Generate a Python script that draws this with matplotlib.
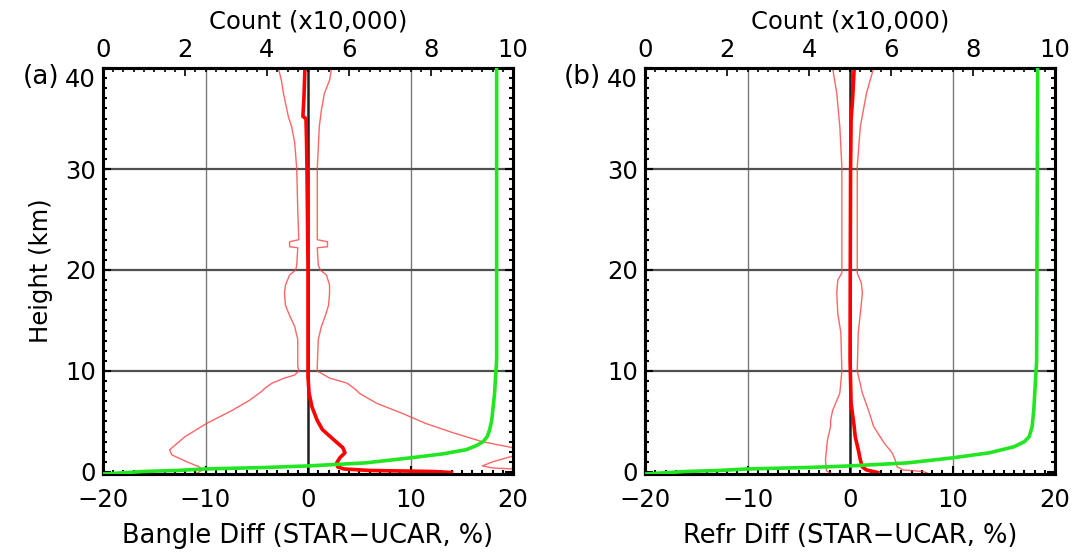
import matplotlib
matplotlib.use("Agg")
import matplotlib.pyplot as plt
from matplotlib.ticker import MultipleLocator

plt.rcParams['font.family'] = ['DejaVu Sans']
plt.rcParams['font.size'] = 17.5

# ---- panel (a): bending angle difference ----
a_mean_h = [40, 37, 35.2, 35.0, 33, 30, 25, 20, 15, 11, 9.4, 7.8, 6.4, 5.1, 4.2,
            3.2, 2.4, 1.9, 1.4, 0.9, 0.5, 0.3, 0.15, 0.05, -0.05]
a_mean_x = [-0.3, -0.4, -0.5, -0.2, -0.15, -0.1, -0.05, 0, 0, 0, 0, 0.1, 0.4, 0.9, 1.4,
            2.5, 3.4, 3.6, 3.1, 2.8, 2.9, 3.5, 6.0, 12.1, 14.0]

a_lo_h = [40, 38.8, 37.5, 35.1, 34.2, 32.6, 30, 25.9, 23.0, 22.8, 22.3, 22.2, 20.5, 20.0,
          19.5, 18.5, 17.7, 16.5, 15.5, 14.4, 13.1, 10.5, 10.0, 9.6, 9.3, 8.8, 8.3, 8.0,
          7.1, 6.1, 4.8, 3.5, 2.2, 1.7, 1.0, 0.5, 0.2, -0.1]
a_lo_x = [-2.9, -2.6, -2.4, -1.9, -1.6, -1.3, -1.1, -1.0, -0.9, -1.8, -1.8, -1.0, -1.1, -1.2,
          -1.8, -2.2, -2.3, -2.2, -1.8, -1.3, -1.0, -1.0, -0.9, -1.3, -2.3, -3.5, -4.2, -4.5,
          -5.7, -7.4, -9.9, -12.0, -13.5, -13.3, -11.8, -10.6, -10.3, -10.8]

a_hi_h = [40, 38.8, 37.5, 35.8, 34.2, 30, 23.0, 22.8, 22.3, 22.2, 20.5, 20.0, 19.5, 18.5,
          17.7, 16.5, 15.5, 14.4, 13.1, 10.5, 10.0, 9.3, 8.8, 8.2, 7.8, 6.8, 5.8, 4.8,
          3.9, 3.0, 2.4, 2.0, 1.6, 1.5, 1.0, 0.6, 0.4, 0.3, 0.2]
a_hi_x = [2.3, 2.1, 1.6, 1.3, 1.1, 0.9, 0.9, 1.9, 1.9, 0.9, 1.0, 1.2, 1.8, 2.1,
          2.1, 2.0, 1.7, 1.3, 1.0, 0.9, 0.9, 2.1, 3.8, 4.6, 5.0, 6.7, 9.2, 11.5,
          14.1, 17.0, 20.0, 21.0, 20.3, 19.7, 18.0, 17.0, 18.0, 20.0, 22.0]

# count profile (x10,000), top axis
a_cnt_h = [-0.2, 0.05, 0.15, 0.3, 0.45, 0.6, 0.9, 1.4, 1.8, 2.2, 2.6, 3.0, 3.5, 4.2,
           5.1, 7.8, 11.1, 40]
a_cnt_c = [0.0, 1.0, 1.8, 2.5, 4.0, 5.0, 6.4, 7.5, 8.3, 8.85, 9.1, 9.27, 9.37, 9.43,
           9.48, 9.55, 9.6, 9.6]

# ---- panel (b): refractivity difference ----
b_mean_h = [40, 37, 34.9, 30, 20, 11.1, 6.8, 4.5, 3.5, 2.2, 1.2, 0.5, 0.2, -0.05]
b_mean_x = [0.4, 0.25, 0.1, 0.05, 0.02, 0.0, 0.1, 0.4, 0.5, 0.8, 1.0, 1.2, 1.6, 2.7]

b_lo_h = [40, 37.5, 34.2, 30.2, 24.3, 19.7, 19.0, 17.7, 15.7, 13.8, 10, 7.8, 6.1, 5.1,
          4.5, 3.2, 1.2, 0.1, -0.1]
b_lo_x = [-1.7, -1.3, -1.0, -0.8, -0.8, -0.8, -1.2, -1.3, -1.2, -0.9, -0.8, -1.0, -1.7, -1.9,
          -1.9, -2.2, -2.4, -2.3, -1.9]

b_hi_h = [40, 37.5, 34.2, 30.2, 24, 19.7, 18.7, 17.7, 15.7, 13.8, 10, 7.8, 6.1, 4.5,
          2.9, 1.9, 1.2, 0.5, 0.2, 0.05, -0.1]
b_hi_x = [2.3, 1.6, 1.0, 0.7, 0.7, 0.7, 1.1, 1.2, 1.0, 0.8, 0.7, 1.2, 1.8, 2.3,
          3.3, 4.1, 4.4, 4.6, 5.2, 7.1, 7.5]

b_cnt_h = [-0.2, 0.05, 0.15, 0.3, 0.45, 0.6, 0.9, 1.4, 1.9, 2.5, 3.0, 3.5, 4.5,
           6.1, 11.0, 40]
b_cnt_c = [0.0, 1.0, 1.8, 2.5, 4.0, 5.0, 6.4, 7.5, 8.4, 9.0, 9.25, 9.37, 9.44,
           9.48, 9.55, 9.575]

fig = plt.figure(figsize=(10.74, 5.52), dpi=100)


def draw_panel(left, tag, xlabel, mean_h, mean_x, lo_h, lo_x, hi_h, hi_x, cnt_h, cnt_c, ylabel=None):
    ax = fig.add_axes([left, 0.1413, 0.3818, 0.7355])
    ax.set_xlim(-20, 20)
    ax.set_ylim(-0.2, 40)

    # grid
    for x in (-10, 10):
        ax.axvline(x, color='#7a7a7a', lw=1.0, zorder=1)
    ax.axvline(0, color='#202020', lw=1.8, zorder=1)
    for h in (10, 20, 30):
        ax.axhline(h, color='#505050', lw=1.6, zorder=1)

    # difference profiles
    ax.plot(lo_x, lo_h, color='#ff4040', lw=1.0, alpha=0.8, zorder=2)
    ax.plot(hi_x, hi_h, color='#ff4040', lw=1.0, alpha=0.8, zorder=2)
    ax.plot(mean_x, mean_h, color='red', lw=2.6, zorder=3)

    ax.set_xticks([-20, -10, 0, 10, 20])
    ax.xaxis.set_minor_locator(MultipleLocator(1))
    ax.set_yticks([0, 10, 20, 30, 40])
    ax.yaxis.set_minor_locator(MultipleLocator(1))
    ax.tick_params(which='both', direction='in', top=False, right=True, width=1.5)
    ax.tick_params(which='major', length=6)
    ax.tick_params(which='minor', length=3)
    ax.tick_params(axis='x', pad=10)
    ax.tick_params(axis='y', pad=5)
    ax.get_yticklabels()[-1].set_va('top')
    for s in ax.spines.values():
        s.set_linewidth(2.2)
    ax.set_xlabel(xlabel, labelpad=8, fontsize=18.5)
    if ylabel:
        ax.set_ylabel(ylabel, labelpad=9)

    # count on the top axis
    ax2 = ax.twiny()
    ax2.set_xlim(0, 10)
    ax2.plot(cnt_c, cnt_h, color='#22e622', lw=2.6, zorder=4)
    ax2.set_xticks([0, 2, 4, 6, 8, 10])
    ax2.xaxis.set_minor_locator(MultipleLocator(0.25))
    ax2.tick_params(which='both', direction='in', width=1.2, pad=4)
    ax2.tick_params(which='major', length=6)
    ax2.tick_params(which='minor', length=3)
    ax2.set_xlabel('Count (x10,000)', labelpad=7)
    for s in ax2.spines.values():
        s.set_linewidth(2.2)

    fig.text(left - 0.058, 1 - 77 / 552, tag, ha='center', va='center', fontsize=19)
    return ax


draw_panel(0.0959, '(a)', 'Bangle Diff (STAR\u2212UCAR, %)',
           a_mean_h, a_mean_x, a_lo_h, a_lo_x, a_hi_h, a_hi_x, a_cnt_h, a_cnt_c,
           ylabel='Height (km)')
draw_panel(0.6006, '(b)', 'Refr Diff (STAR\u2212UCAR, %)',
           b_mean_h, b_mean_x, b_lo_h, b_lo_x, b_hi_h, b_hi_x, b_cnt_h, b_cnt_c)

fig.savefig('out.png', dpi=100)
